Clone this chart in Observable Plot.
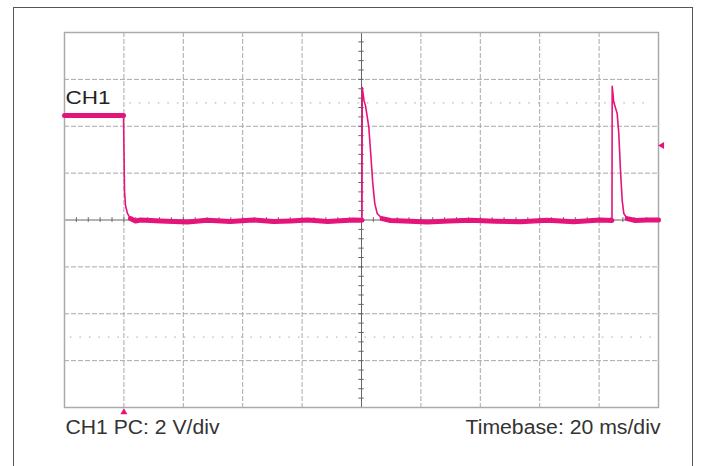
<!DOCTYPE html>
<html>
<head>
<meta charset="utf-8">
<script src="https://cdn.jsdelivr.net/npm/d3@7"></script>
<script src="https://cdn.jsdelivr.net/npm/@observablehq/plot@0.6"></script>
<style>
  html, body { margin: 0; padding: 0; background: #fff; }
  #wrap { position: relative; width: 706px; height: 466px; overflow: hidden; }
  #border { position: absolute; left: 13px; top: 7px; width: 680px; height: 480px;
            border: 1.5px solid #555; box-sizing: border-box; }
  #chart { position: absolute; left: 0; top: 0; }
</style>
</head>
<body>
<div id="wrap"><div id="border"></div><div id="chart"></div></div>
<script>
// Oscilloscope trace CH1: time in ms (20 ms/div), voltage in V (2 V/div)
const timeMs = [0, 19.87, 20.03, 20.2, 20.54, 21.2, 22.2, 23.9, 25.6, 32.3, 41.4, 48.1, 55.9, 63.6, 70.4, 76.1, 81.8, 88.6, 97.3, 100.17,
  100.25, 100.84, 101.35, 102.46, 103.27, 103.8, 104.48, 105.29, 106.97, 109.76, 116.5, 122.2, 129.5, 136.7, 145.0, 153.5, 162.6, 171.4, 180.5, 184.34,
  184.41, 184.95, 186.09, 186.63, 187.2, 187.78, 188.32, 189.46, 192.26, 196.0, 200];
const volts = [4.46, 4.46, 2.96, 1.26, 0.62, 0.28, 0.06, -0.04, 0.0, -0.04, -0.085, -0.01, -0.064, 0.0, -0.064, -0.04, 0.0, -0.064, 0.0, -0.01,
  5.65, 5.10, 4.88, 3.96, 2.54, 1.56, 0.70, 0.28, 0.06, -0.02, -0.05, -0.085, -0.04, -0.01, -0.05, -0.077, -0.01, -0.07, 0.0, -0.02,
  5.70, 5.02, 4.54, 3.69, 2.11, 0.83, 0.28, 0.06, -0.02, 0.0, 0.0];

// grid
const divTimes = [20, 40, 60, 80, 120, 140, 160, 180];
const divVolts = [-6, -4, -2, 2, 4, 6];
const minorTimes = d3.range(0, 200.01, 4);
const minorVolts = d3.range(-8, 8.01, 0.4);
const refVolts = [5, -5];

// labels
const channelLabel = ["CH1"];
const scaleLabel = ["CH1 PC: 2 V/div"];
const timeLabel = ["Timebase: 20 ms/div"];
const triggerTime = [20];
const triggerLevel = [3.18];

const color = "#e5147a";
const trace = timeMs.map((t, i) => ({t, v: volts[i]}));

// thick "noise band" runs where the trace is flat
const thickRuns = [];
let r = -1, open = false;
for (let i = 0; i < trace.length - 1; i++) {
  const a = trace[i], b = trace[i + 1];
  if (Math.abs(b.v - a.v) < 0.15) {
    if (!open) { r++; thickRuns.push({...a, r}); open = true; }
    thickRuns.push({...b, r});
  } else open = false;
}

const chart = Plot.plot({
  width: 706, height: 466,
  marginLeft: 64, marginRight: 48, marginTop: 32, marginBottom: 59,
  x: {domain: [0, 200], axis: null},
  y: {domain: [-8, 8], axis: null},
  style: {background: "transparent", fontFamily: "'Liberation Sans', Arial, sans-serif"},
  marks: [
    Plot.ruleX(divTimes, {stroke: "#a8a8a8", strokeWidth: 1, strokeDasharray: "5,2"}),
    Plot.ruleY(divVolts, {stroke: "#a8a8a8", strokeWidth: 1, strokeDasharray: "5,2"}),
    Plot.ruleY(refVolts.slice(0, 1), {x1: 22, x2: 198, stroke: "#b8b8b8", strokeWidth: 1.2, strokeDasharray: "1.5,8"}),
    Plot.ruleY(refVolts.slice(1), {x1: 2, x2: 198, stroke: "#b8b8b8", strokeWidth: 1.2, strokeDasharray: "1.5,8"}),
    Plot.ruleX([100], {stroke: "#666", strokeWidth: 1}),
    Plot.ruleY([0], {stroke: "#666", strokeWidth: 1}),
    Plot.ruleY(minorVolts, {x1: 99.1, x2: 100.9, stroke: "#666", strokeWidth: 1}),
    Plot.ruleX(minorTimes, {y1: -0.1, y2: 0.1, stroke: "#666", strokeWidth: 1}),
    Plot.frame({stroke: "#aaaaaa", strokeWidth: 1.5}),
    Plot.line(trace, {x: "t", y: "v", stroke: color, strokeWidth: 1.6, curve: "linear"}),
    Plot.line(thickRuns, {x: "t", y: "v", z: "r", stroke: color, strokeWidth: 5}),
    Plot.text(channelLabel, {x: 0, y: 4.93, text: d => d, textAnchor: "start", lineAnchor: "bottom", dx: 1, fontSize: 18, fill: "#222"}),
    Plot.text(scaleLabel, {frameAnchor: "bottom-left", text: d => d, textAnchor: "start", lineAnchor: "bottom", dx: 1, dy: 26, fontSize: 20, fill: "#333"}),
    Plot.text(timeLabel, {frameAnchor: "bottom-right", text: d => d, textAnchor: "end", lineAnchor: "bottom", dx: 2, dy: 26, fontSize: 20, fill: "#333"}),
    Plot.dot(triggerTime, {x: d => d, y: -8.2, symbol: "triangle", r: 2.6, fill: color, stroke: null}),
    Plot.dot(triggerLevel, {x: 201.2, y: d => d, symbol: "triangle", rotate: -90, r: 2.6, fill: color, stroke: null})
  ]
});
// stretch labels horizontally to the reference widths
const widths = {"CH1": 45, "CH1 PC: 2 V/div": 154, "Timebase: 20 ms/div": 195};
chart.querySelectorAll("text").forEach(el => {
  const w = widths[el.textContent];
  if (w) { el.setAttribute("textLength", w); el.setAttribute("lengthAdjust", "spacingAndGlyphs"); }
});
document.getElementById("chart").appendChild(chart);
</script>
</body>
</html>
